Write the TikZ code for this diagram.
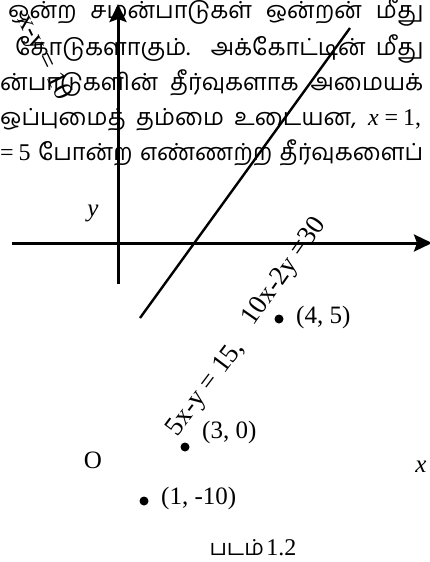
\documentclass[tikz,border=0pt]{standalone}
\usepackage{fontspec}
\setmainfont{Liberation Serif}
\newfontfamily\tamil[Script=Tamil]{Hind Madurai}
\usetikzlibrary{arrows.meta}
\newcommand{\mathpart}[1]{\mbox{\fontsize{24}{24}\selectfont\rmfamily #1}}
\begin{document}
\begin{tikzpicture}[x=1pt,y=-1pt,
  tline/.style={anchor=base west, inner sep=0pt, font=\tamil\fontsize{23.5}{23.5}\selectfont},
  lat/.style={inner sep=0pt, font=\fontsize{25}{25}\selectfont},
  rlab/.style={inner sep=0pt, font=\fontsize{27}{27}\selectfont},
  axisline/.style={line width=3pt, -{Stealth[length=18pt,width=17pt,inset=3pt]}},
  graphline/.style={line width=2.4pt},
  dot/.style={circle, fill=black, inner sep=0pt, minimum size=9pt}]
\useasboundingbox (0,0) rectangle (430,562);
\clip (0,0) rectangle (430,562);
% paragraph lines (cut by the frame), justified to the right edge
\node[tline] (l1) at (8,19) {\makebox[415pt][s]{ஒன்ற சமன்பாடுகள் ஒன்றன் மீது}};
\node[tline] (l2) at (15,55) {\makebox[408pt][s]{கோடுகளாகும். அக்கோட்டின் மீது}};
\node[tline] (l3) at (0,90) {\makebox[423pt][s]{\llap{சம}ன்பாடுகளின் தீர்வுகளாக அமையக்}};
\node[tline] (l4) at (0,125) {\makebox[421pt][s]{ஒப்புமைத் தம்மை உடையன, \mathpart{{\itshape x}\kern6pt=\kern5pt1,}}};
\node[tline] (l5) at (0,160) {\makebox[423pt][s]{\mathpart{\llap{y }=\kern5pt5} போன்ற எண்ணற்ற தீர்வுகளைப்}};
% rotated label top-left
\node[rlab, rotate=-64] (lab0) at (43.5,58) {x-y = 10};
% axes
\coordinate (ybot) at (118,284);
\coordinate (ytop) at (118,4);
\coordinate (xl) at (12,243);
\coordinate (xr) at (432,243);
\draw[axisline] (ybot) -- (ytop);
\draw[axisline] (xl) -- (xr);
% line
\coordinate (la) at (350,28);
\coordinate (lb) at (140,318);
\draw[graphline] (la) -- (lb);
% axis labels
\node[lat, font=\fontsize{25}{25}\selectfont\itshape] (ylab) at (93,213) {y};
\node[lat, font=\fontsize{25}{25}\selectfont\itshape] (xlab) at (421,467) {x};
\node[lat] (olab) at (93,460) {O};
% equation labels
\node[rlab, rotate=55] (eq1) at (285,272) {10x-2y =30};
\node[rlab, rotate=53] (eq2) at (206,389) {5x-y = 15,};
% points
\node[dot] (p1) at (279,319) {};
\node[lat, anchor=west] (p1l) at (296,317) {(4, 5)};
\node[dot] (p2) at (185,447) {};
\node[lat, anchor=west] (p2l) at (202,432) {(3, 0)};
\node[dot] (p3) at (144,501) {};
\node[lat, anchor=west] (p3l) at (161,498) {(1, -10)};
% caption
\node[inner sep=0pt] (cap) at (253,548) {{\tamil\fontsize{22}{22}\selectfont படம்} {\fontsize{24}{24}\selectfont 1.2}};
\end{tikzpicture}
\end{document}
